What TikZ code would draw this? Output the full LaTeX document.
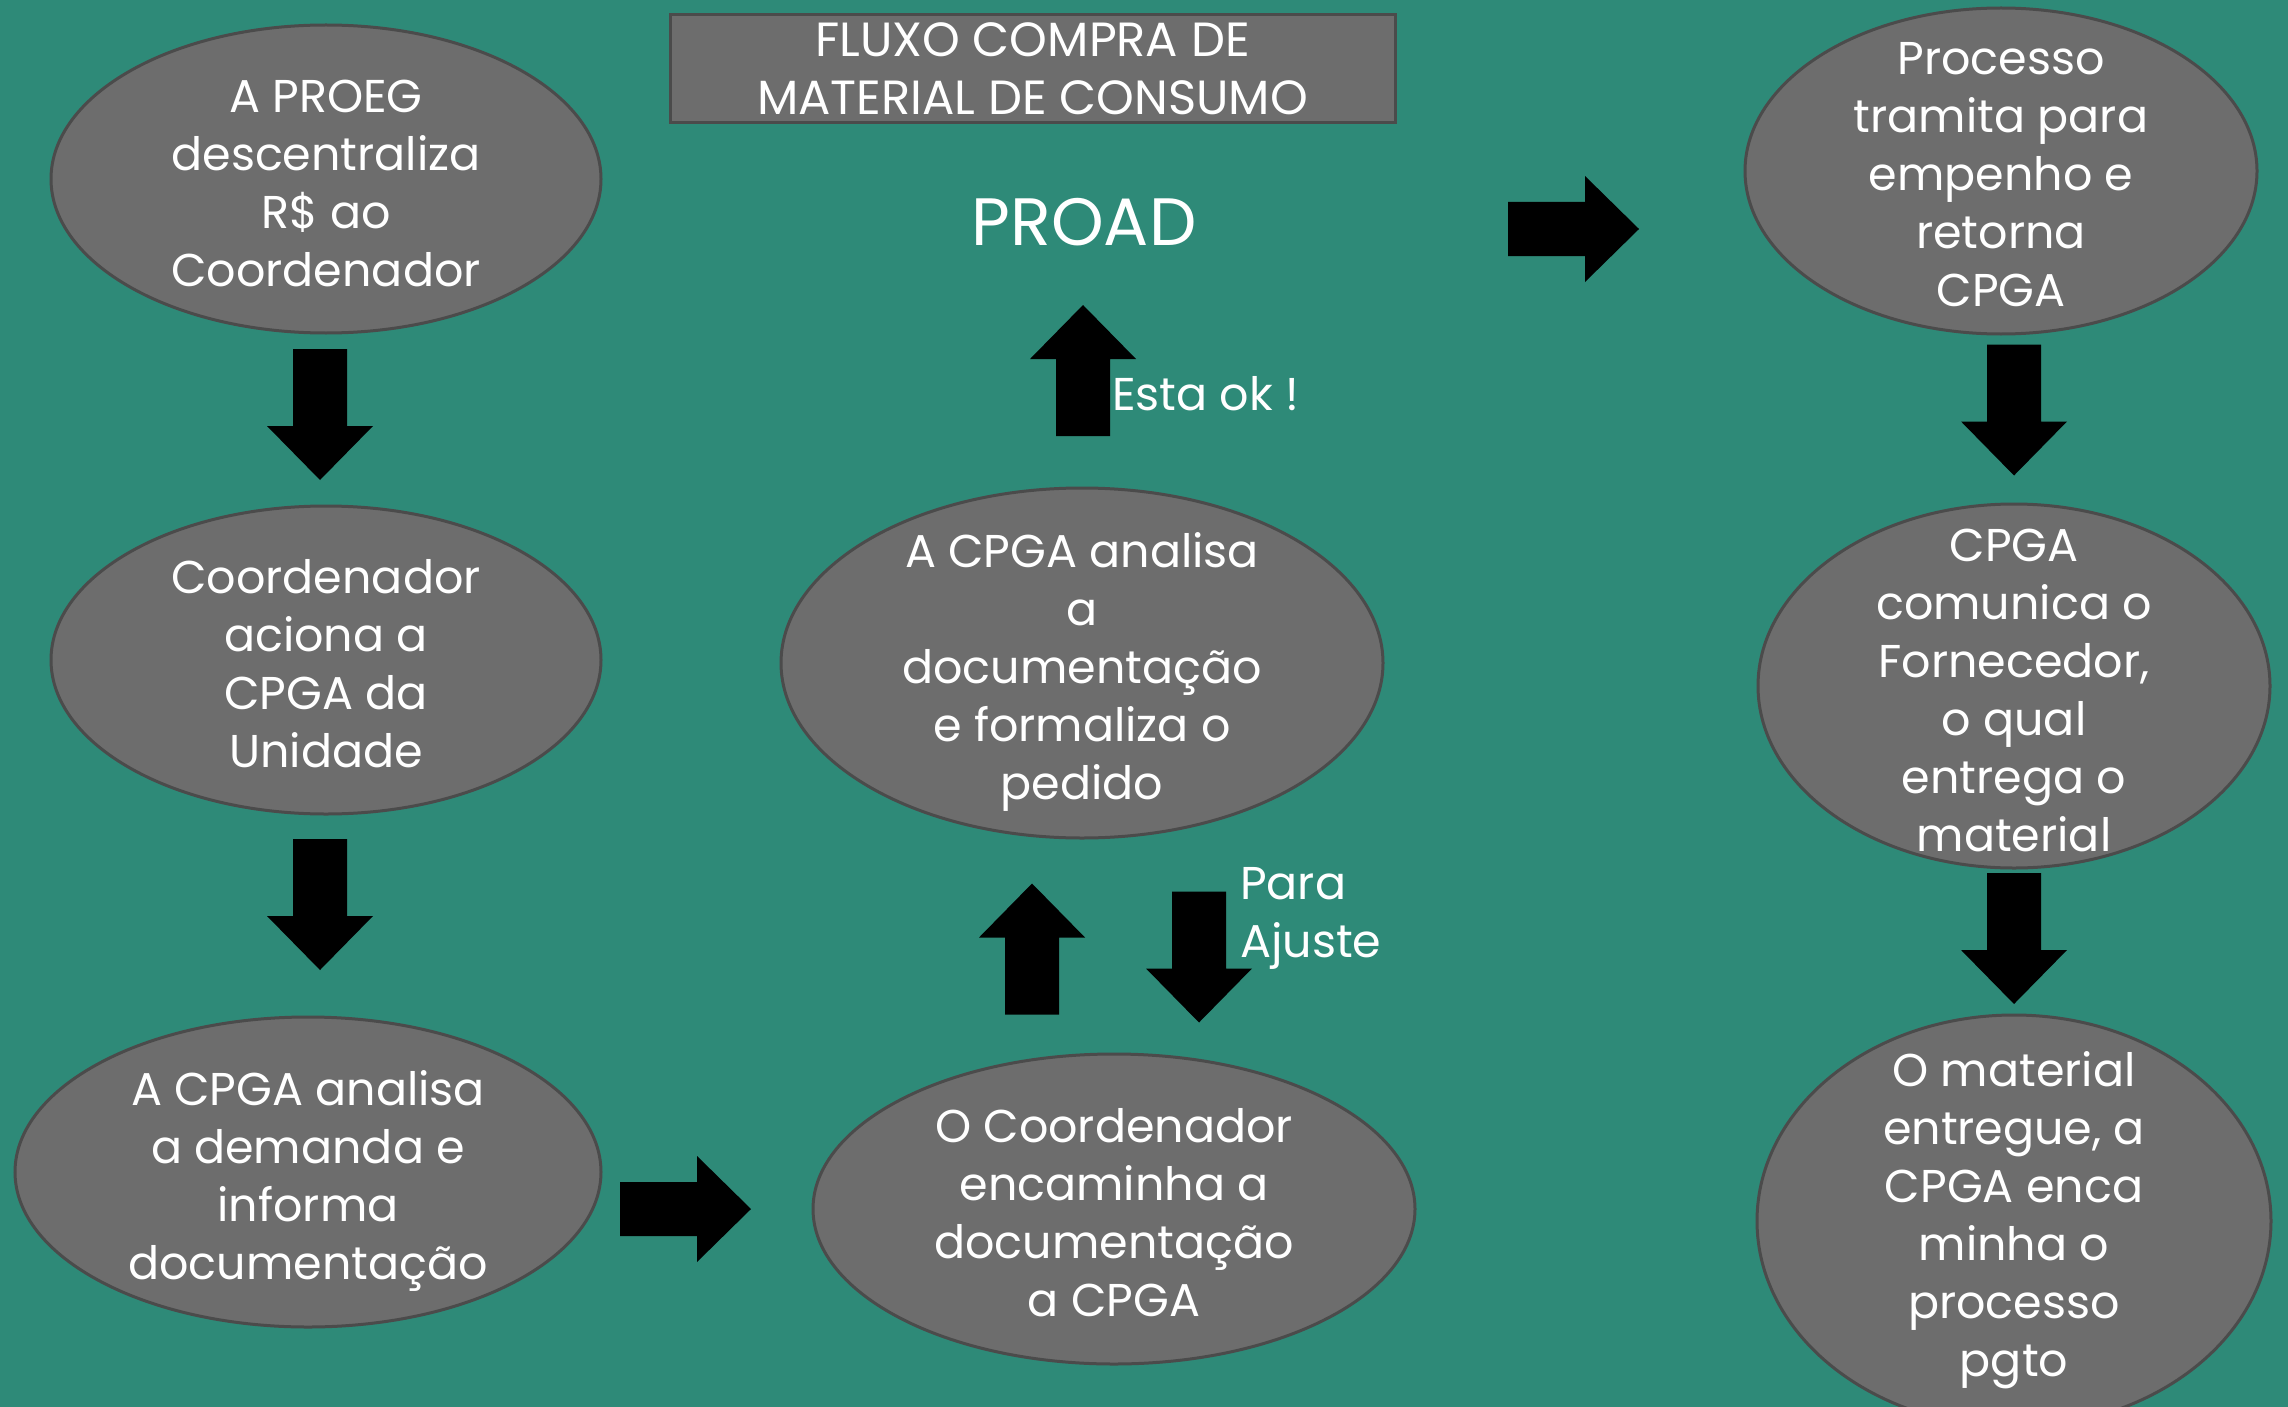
\documentclass[tikz,border=0pt]{standalone}
\usepackage{fontspec}
\setmainfont{Poppins}
\usetikzlibrary{shapes.geometric}
\definecolor{bgteal}{HTML}{2E8A78}
\definecolor{ellfill}{HTML}{6D6D6D}
\definecolor{ellline}{HTML}{4B4B4B}
\tikzset{
  stepell/.style={ellipse, draw=ellline, line width=3pt, fill=ellfill, inner sep=0pt},
  lbl/.style={text=white, inner sep=0pt, font=\fontsize{46}{58}\selectfont},
  elltext/.style={label={[lbl, align=center, yshift=-4pt]center:#1}},
  elltextlow/.style={label={[lbl, align=center, yshift=-9pt]center:#1}},
  barrow/.pic={\fill[black] (-65.5,-27) -- (11.5,-27) -- (11.5,-53) -- (65.5,0) -- (11.5,53) -- (11.5,27) -- (-65.5,27) -- cycle;}
}
\begin{document}
\begin{tikzpicture}[x=1pt,y=-1pt]
\useasboundingbox (0,0) rectangle (2288,1407);
\clip (0,0) rectangle (2288,1407);
\fill[bgteal] (0,0) rectangle (2288,1407);
% title
\node[draw=ellline, line width=3pt, fill=ellfill, minimum width=725pt, minimum height=108pt, inner sep=0pt,
  text=white, align=center, font=\fontsize{48}{58}\selectfont] (title) at (1032.5,69) {FLUXO COMPRA DE\\MATERIAL DE CONSUMO};
% ellipses
\node[stepell, minimum width=550pt, minimum height=308pt, elltext={A PROEG\\descentraliza\\R\$ ao\\Coordenador}] (e1) at (326,179) {};
\node[stepell, minimum width=550pt, minimum height=308pt, elltext={Coordenador\\aciona a\\CPGA da\\Unidade}] (e2) at (326,660) {};
\node[stepell, minimum width=586pt, minimum height=310pt, elltextlow={A CPGA analisa\\a demanda e\\informa\\documentação}] (e3) at (308,1172) {};
\node[stepell, minimum width=602pt, minimum height=310pt, elltext={O Coordenador\\encaminha a\\documentação\\a CPGA}] (e4) at (1114,1209) {};
\node[stepell, minimum width=602pt, minimum height=350pt, elltextlow={A CPGA analisa\\a\\documentação\\e formaliza o\\pedido}] (e5) at (1082,663) {};
\node[stepell, minimum width=512pt, minimum height=326pt, elltext={Processo\\tramita para\\empenho e\\retorna\\CPGA}] (e6) at (2001,171) {};
\node[stepell, minimum width=512pt, minimum height=364pt, elltext={CPGA\\comunica o\\Fornecedor,\\o qual\\entrega o\\material}] (e7) at (2014,686) {};
\node[stepell, minimum width=514pt, minimum height=412pt] (e8) at (2014,1221) {};
\node[lbl, align=center] (e8t) at (2014,1220) {O material\\entregue, a\\CPGA enca\\minha o\\processo\\pgto};
% labels
\node[lbl, font=\fontsize{67}{75}\selectfont] (proad) at (1084,222) {PROAD};
\node[lbl, anchor=west] (ok) at (1112,394) {Esta ok !};
\node[lbl, anchor=west, align=left] (ajuste) at (1240,918) {Para\\Ajuste};
% block arrows
\pic[rotate=-90] at (320,414.5) {barrow};
\pic[rotate=-90] at (320,904.5) {barrow};
\pic at (685.5,1209) {barrow};
\pic[rotate=90] at (1032,949) {barrow};
\pic[rotate=-90] at (1199,957) {barrow};
\pic[rotate=90] at (1083,370.5) {barrow};
\pic at (1573.5,229) {barrow};
\pic[rotate=-90] at (2014,410) {barrow};
\pic[rotate=-90] at (2014,938.5) {barrow};
\end{tikzpicture}
\end{document}
